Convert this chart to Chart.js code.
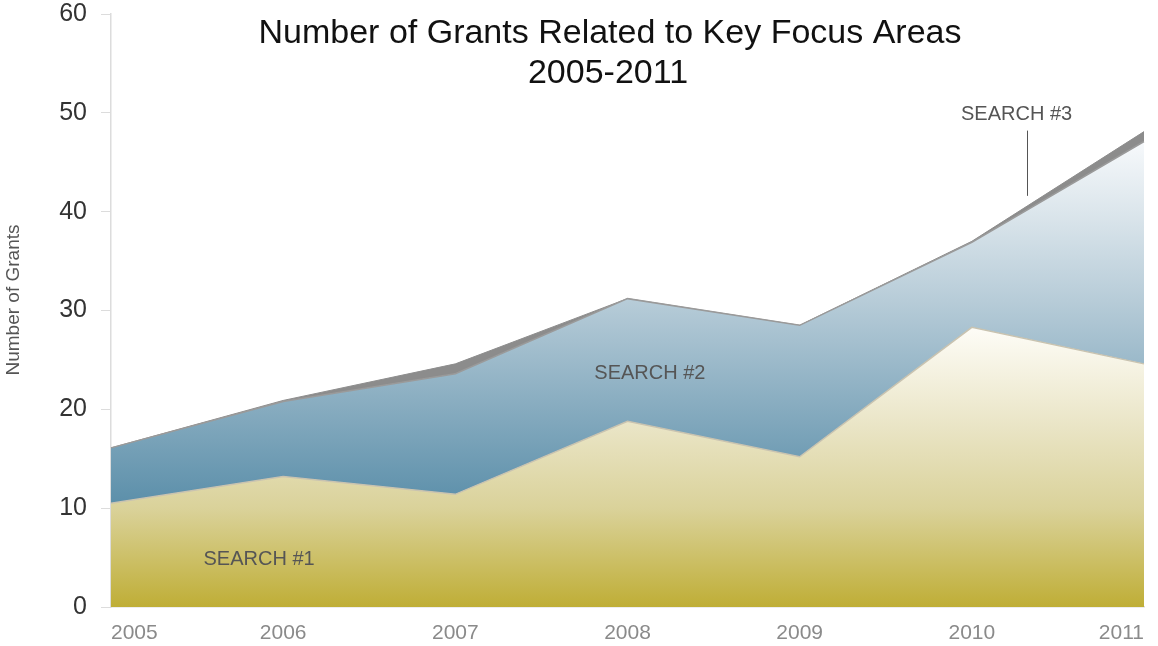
<!DOCTYPE html>
<html>
<head>
<meta charset="utf-8">
<script src="https://cdn.jsdelivr.net/npm/chart.js@4"></script>
<style>
  html, body { margin: 0; padding: 0; background: #fff; }
  #wrap { width: 1158px; height: 646px; position: relative; }
</style>
</head>
<body>
<div id="wrap"><canvas id="grants-chart"></canvas></div>
<script>
// Chart data
const years = ['2005', '2006', '2007', '2008', '2009', '2010', '2011'];
const search1 = [10.5, 13.2, 11.4, 18.8, 15.2, 28.3, 24.6];
const search2 = [5.6, 7.6, 12.2, 12.4, 13.3, 8.6, 22.5];
const search3 = [0, 0.1, 1.0, 0, 0, 0.1, 1.0];
const yTicks = [0, 10, 20, 30, 40, 50, 60];

// Build a vertical gradient whose stops are given in data values
function makeGradient(chart, stops) {
    const area = chart.chartArea;
    const y = chart.scales.y;
    if (!area || !y) return null;
    const top = y.getPixelForValue(60);
    const bottom = y.getPixelForValue(0);
    const g = chart.ctx.createLinearGradient(0, bottom, 0, top);
    stops.forEach(function(s) {
        g.addColorStop(s[0] / 60, s[1]);
    });
    return g;
}

// Title, axis label and the series labels
const labelsPlugin = {
    id: 'labels',
    afterDraw: function(chart) {
        const ctx = chart.ctx;
        const x = chart.scales.x;
        const y = chart.scales.y;
        ctx.save();

        ctx.fillStyle = '#111';
        ctx.textAlign = 'center';
        ctx.textBaseline = 'alphabetic';
        ctx.font = '34px "Liberation Sans", Arial, sans-serif';
        ctx.fillText('Number of Grants Related to Key Focus Areas', 610, 43);
        ctx.fillText('2005-2011', 608, 83);

        ctx.fillStyle = '#555';
        ctx.font = '20px "Liberation Sans", Arial, sans-serif';
        ctx.fillText('SEARCH #1', x.getPixelForValue(0.86), y.getPixelForValue(4.3));
        ctx.fillText('SEARCH #2', x.getPixelForValue(3.13), y.getPixelForValue(23.1));
        ctx.fillText('SEARCH #3', x.getPixelForValue(5.26), y.getPixelForValue(49.3));

        // leader line for the thin series
        ctx.strokeStyle = '#555';
        ctx.lineWidth = 1;
        const lx = Math.round(x.getPixelForValue(5.32)) + 0.5;
        ctx.beginPath();
        ctx.moveTo(lx, y.getPixelForValue(48.2));
        ctx.lineTo(lx, y.getPixelForValue(41.6));
        ctx.stroke();

        // y axis title
        ctx.fillStyle = '#555';
        ctx.font = '19px "Liberation Sans", Arial, sans-serif';
        ctx.translate(14, 300);
        ctx.rotate(-Math.PI / 2);
        ctx.textBaseline = 'middle';
        ctx.fillText('Number of Grants', 0, 0);
        ctx.restore();
    }
};

const ctx = document.getElementById('grants-chart').getContext('2d');
window.grantsChart = new Chart(ctx, {
    type: 'line',
    data: {
        labels: years,
        datasets: [
            {
                label: 'SEARCH #1',
                data: search1,
                fill: 'origin',
                borderColor: '#c9c3b0',
                borderWidth: 1.5,
                backgroundColor: function(c) {
                    return makeGradient(c.chart, [
                        [0, '#bfae36'], [10, '#dad29a'], [18, '#e9e4c4'], [28.5, '#fefdf8']
                    ]);
                }
            },
            {
                label: 'SEARCH #2',
                data: search2,
                fill: '-1',
                borderColor: '#9a9a9a',
                borderWidth: 1.5,
                backgroundColor: function(c) {
                    return makeGradient(c.chart, [
                        [10, '#5a8ea9'], [20, '#86abbf'], [31, '#b7ccd8'], [40, '#dce6ec'], [47.5, '#f8fafc']
                    ]);
                }
            },
            {
                label: 'SEARCH #3',
                data: search3,
                fill: '-1',
                borderColor: '#8e8e8e',
                borderWidth: 1,
                backgroundColor: '#8c8c8c'
            }
        ]
    },
    options: {
        responsive: true,
        maintainAspectRatio: false,
        animation: false,
        layout: { padding: { top: 14, right: 10, left: 0, bottom: 0 } },
        elements: {
            point: { radius: 0, hoverRadius: 0 },
            line: { tension: 0 }
        },
        plugins: {
            legend: { display: false },
            tooltip: { enabled: false },
            title: { display: false }
        },
        scales: {
            x: {
                offset: false,
                grid: { display: false, drawTicks: false },
                border: { display: true, color: '#dcdcdc', width: 1.5 },
                ticks: {
                    align: 'inner',
                    padding: 14,
                    color: '#8a8a8a',
                    maxRotation: 0,
                    font: { family: '"Liberation Sans", Arial, sans-serif', size: 21 }
                },
                afterFit: function(scale) { scale.height = 39; }
            },
            y: {
                stacked: true,
                min: 0,
                max: 60,
                grid: {
                    drawOnChartArea: false,
                    drawTicks: true,
                    tickLength: 10,
                    color: '#dcdcdc'
                },
                border: { display: true, color: '#dcdcdc', width: 1.5 },
                ticks: {
                    stepSize: 10,
                    padding: 14,
                    color: '#333',
                    font: { family: '"Liberation Sans", Arial, sans-serif', size: 25 },
                    callback: function(v) { return yTicks.indexOf(v) >= 0 ? String(v) : ''; }
                },
                afterFit: function(scale) {
                    scale.width = 111;
                    scale.paddingTop = 0;
                    scale.paddingBottom = 0;
                }
            }
        }
    },
    plugins: [labelsPlugin]
});
</script>
</body>
</html>
